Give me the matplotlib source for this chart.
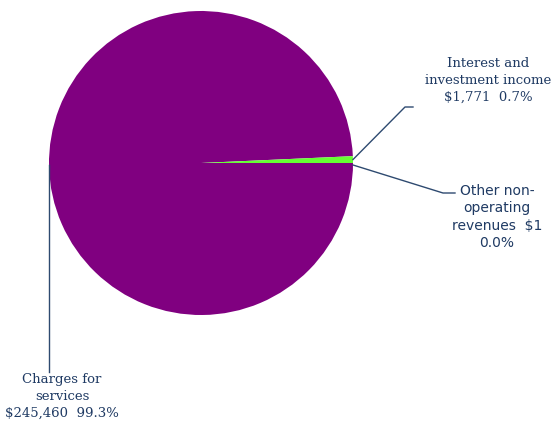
import numpy as np
import matplotlib.pyplot as plt

# revenue breakdown
labels = ["Charges for\nservices", "Interest and\ninvestment income", "Other non-\noperating\nrevenues"]
values = [245460, 1771, 1]
pcts = ["99.3%", "0.7%", "0.0%"]
colors = ["#800080", "#66ff33", "#4f81bd"]

fig = plt.figure(figsize=(5.54, 4.28), dpi=100)
ax = fig.add_axes([0, 0, 1, 1])

cx, cy, r = 201, 265, 152
wedges, _ = ax.pie(values, colors=colors, startangle=0, counterclock=False,
                   center=(cx, cy), radius=r, frame=True)
ax.set_xlim(0, 554)
ax.set_ylim(0, 428)
ax.set_aspect("equal")
ax.axis("off")

txt_color = "#1f3a63"
line_color = "#2e4a70"

def edge(w, frac=0.5):
    a = np.deg2rad(w.theta1 + (w.theta2 - w.theta1) * frac)
    return cx + r * np.cos(a), cy + r * np.sin(a)

# charges for services: leader from leftmost point straight down
x0, y0 = cx - r, cy - 2
ax.plot([x0, x0], [y0, 428 - 372], color=line_color, lw=1)
ax.text(62, 428 - 396, f"{labels[0]}\n${values[0]:,}  {pcts[0]}", ha="center", va="center",
        color=txt_color, fontsize=9.5, family="DejaVu Serif", linespacing=1.4)

# interest and investment income
x1, y1 = edge(wedges[1])
ax.plot([x1, 405, 413], [y1, 428 - 107, 428 - 107], color=line_color, lw=1)
ax.text(488, 428 - 80, f"{labels[1]}\n${values[1]:,}  {pcts[1]}", ha="center", va="center",
        color=txt_color, fontsize=9.5, family="DejaVu Serif", linespacing=1.4)

# other non-operating revenues
x2, y2 = edge(wedges[2])
ax.plot([x2, 443, 455], [y2 - 2, 428 - 193, 428 - 193], color=line_color, lw=1)
ax.text(497, 428 - 217, f"{labels[2]}  ${values[2]}\n{pcts[2]}", ha="center", va="center",
        color=txt_color, fontsize=10, family="DejaVu Sans", linespacing=1.3)

fig.savefig("out.png", dpi=100)
